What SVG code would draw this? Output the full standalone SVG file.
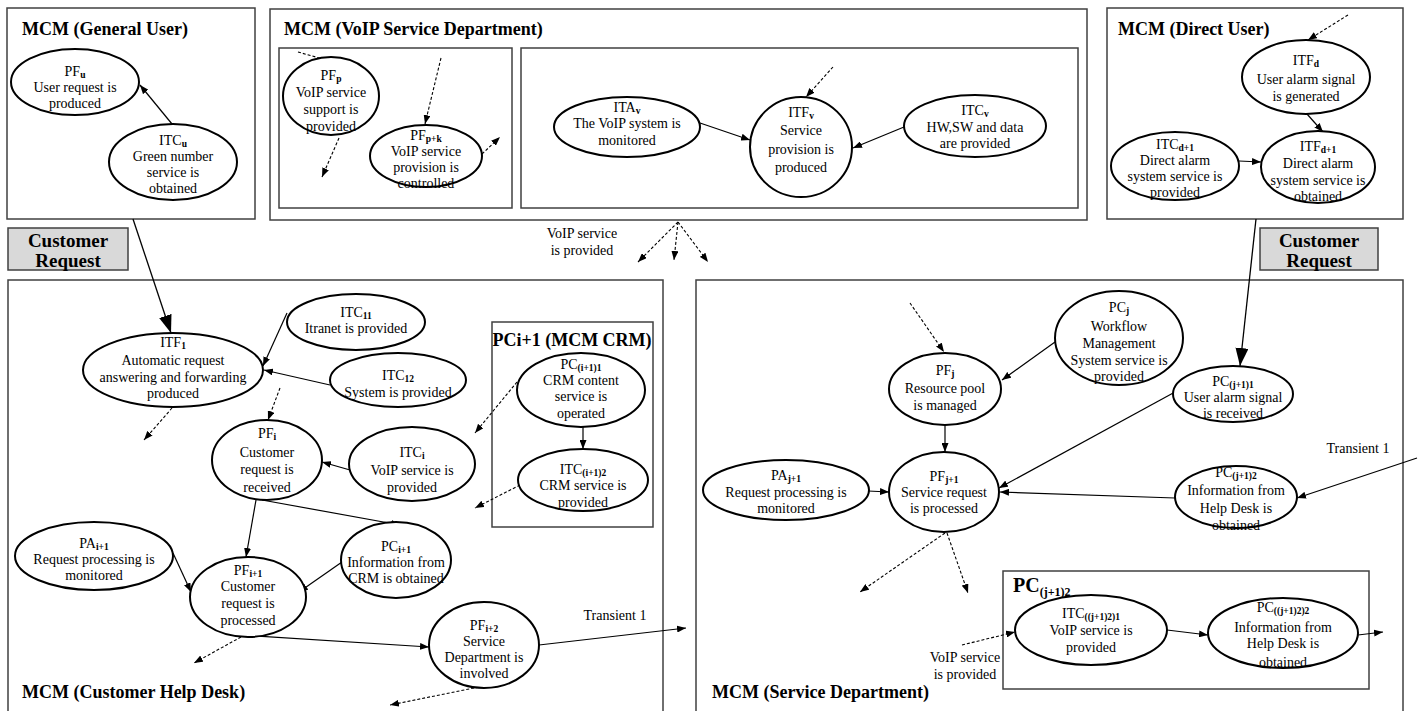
<svg xmlns="http://www.w3.org/2000/svg" width="1425" height="711" viewBox="0 0 1425 711">
<style>
.box{fill:none;stroke:#404040;stroke-width:1.5}
.cr{fill:#d9d9d9;stroke:#404040;stroke-width:1.5}
.el{fill:#fff;stroke:#000;stroke-width:2}
.t{font-family:"Liberation Serif","Times New Roman",serif;font-size:14px;fill:#000;text-anchor:middle}
.ttl{font-family:"Liberation Serif","Times New Roman",serif;font-size:18px;font-weight:bold;fill:#000}
.crt{font-family:"Liberation Serif","Times New Roman",serif;font-size:19px;font-weight:bold;fill:#000;text-anchor:middle}
.sub{font-size:9.5px;font-weight:bold}
.ln{fill:none;stroke:#000;stroke-width:1.2;marker-end:url(#a)}
.dl{fill:none;stroke:#000;stroke-width:1.1;stroke-dasharray:3,2;marker-end:url(#a)}
.bl{fill:none;stroke:#000;stroke-width:1.3;marker-end:url(#big)}
</style>
<defs>
<marker id="a" markerUnits="userSpaceOnUse" markerWidth="9" markerHeight="7" refX="9" refY="3.5" orient="auto"><path d="M0,0 L9,3.5 L0,7 z" fill="#000"/></marker>
<marker id="big" markerUnits="userSpaceOnUse" markerWidth="18" markerHeight="13" refX="18" refY="6.5" orient="auto"><path d="M0,0 L18,6.5 L0,13 z" fill="#000"/></marker>
</defs>
<rect width="1425" height="711" fill="#fff"/>

<g id="containers">
<rect class="box" x="7" y="8" width="248" height="211"/>
<text class="ttl" x="22" y="35">MCM (General User)</text>
<rect class="box" x="270" y="9" width="817" height="211"/>
<text class="ttl" x="284" y="35">MCM (VoIP Service Department)</text>
<rect class="box" x="279" y="48" width="233" height="160"/>
<rect class="box" x="521" y="48" width="557" height="160"/>
<rect class="box" x="1107" y="8" width="296" height="211"/>
<text class="ttl" x="1118" y="35">MCM (Direct User)</text>
<rect class="box" x="8" y="280" width="655" height="440"/>
<text class="ttl" x="22" y="698">MCM (Customer Help Desk)</text>
<rect class="box" x="492" y="322" width="161" height="205"/>
<text class="ttl" x="572" y="346" style="text-anchor:middle">PCi+1 (MCM CRM)</text>
<rect class="box" x="696" y="280" width="707" height="440"/>
<text class="ttl" x="712" y="698">MCM (Service Department)</text>
<rect class="box" x="1003" y="571" width="366" height="118"/>
<text class="ttl" x="1013" y="592" style="font-size:20px">PC<tspan class="sub" style="font-size:12px" dy="4">(j+1)2</tspan></text>
</g>

<g id="customer-request-left">
<rect class="cr" x="8" y="228" width="120" height="42"/>
<text class="crt" x="68" y="247">Customer</text>
<text class="crt" x="68" y="267">Request</text>
</g>
<g id="customer-request-right">
<rect class="cr" x="1260" y="228" width="118" height="42"/>
<text class="crt" x="1319" y="247">Customer</text>
<text class="crt" x="1319" y="267">Request</text>
</g>

<g id="connectors">
<line class="ln" x1="172" y1="124" x2="140" y2="85"/>
<line class="bl" x1="133" y1="219" x2="171" y2="333"/>
<line class="dl" x1="298" y1="52" x2="337" y2="63"/>
<line class="dl" x1="441" y1="58" x2="425" y2="124"/>
<line class="dl" x1="339" y1="138" x2="322" y2="177"/>
<line class="dl" x1="482" y1="154" x2="500" y2="137"/>
<line class="ln" x1="700" y1="123" x2="750" y2="140"/>
<line class="ln" x1="904" y1="127" x2="853" y2="148"/>
<line class="dl" x1="833" y1="67" x2="806" y2="97"/>
<line class="dl" x1="678" y1="222" x2="638" y2="262"/>
<line class="dl" x1="678" y1="222" x2="674" y2="260"/>
<line class="dl" x1="678" y1="222" x2="708" y2="262"/>
<line class="dl" x1="1348" y1="15" x2="1308" y2="40"/>
<line class="ln" x1="1307" y1="114" x2="1323" y2="132"/>
<line class="ln" x1="1239" y1="161" x2="1261" y2="162"/>
<line class="bl" x1="1256" y1="219" x2="1240" y2="366"/>
<line class="ln" x1="287" y1="313" x2="263" y2="366"/>
<line class="ln" x1="330" y1="385" x2="264" y2="370"/>
<line class="dl" x1="172" y1="408" x2="144" y2="440"/>
<line class="dl" x1="280" y1="388" x2="268" y2="420"/>
<line class="ln" x1="350" y1="470" x2="322" y2="462"/>
<line class="ln" x1="583" y1="427" x2="583" y2="449"/>
<line class="dl" x1="517" y1="382" x2="475" y2="433"/>
<line class="dl" x1="520" y1="485" x2="475" y2="508"/>
<line class="ln" x1="256" y1="500" x2="246" y2="557"/>
<line class="ln" x1="262" y1="500" x2="400" y2="525"/>
<line class="ln" x1="173" y1="553" x2="191" y2="592"/>
<line class="ln" x1="342" y1="562" x2="299" y2="592"/>
<line class="dl" x1="241" y1="637" x2="194" y2="663"/>
<line class="ln" x1="239" y1="635" x2="429" y2="647"/>
<line class="ln" x1="539" y1="645" x2="686" y2="628"/>
<text class="t" x="615" y="620">Transient 1</text>
<line class="dl" x1="479" y1="687" x2="390" y2="705"/>
<line class="dl" x1="910" y1="303" x2="944" y2="352"/>
<line class="ln" x1="1055" y1="342" x2="1002" y2="380"/>
<line class="ln" x1="945" y1="425" x2="945" y2="452"/>
<line class="ln" x1="868" y1="491" x2="889" y2="492"/>
<line class="ln" x1="1175" y1="392" x2="999" y2="488"/>
<line class="ln" x1="1175" y1="498" x2="1000" y2="492"/>
<line class="ln" x1="1417" y1="458" x2="1297" y2="498"/>
<text class="t" x="1358" y="453">Transient 1</text>
<line class="dl" x1="945" y1="533" x2="860" y2="592"/>
<line class="dl" x1="947" y1="533" x2="968" y2="593"/>
<line class="ln" x1="1167" y1="630" x2="1208" y2="635"/>
<line class="ln" x1="1358" y1="635" x2="1383" y2="632"/>
<line class="dl" x1="962" y1="645" x2="1015" y2="632"/>
<text class="t" x="582" y="238">VoIP service</text>
<text class="t" x="582" y="255">is provided</text>
<text class="t" x="965" y="662">VoIP service</text>
<text class="t" x="965" y="679">is provided</text>
</g>

<g id="PFu"><ellipse class="el" cx="75" cy="82" rx="64" ry="33"/>
<text class="t" x="75" y="76">PF<tspan class="sub" dy="2">u</tspan></text>
<text class="t" x="75" y="92">User request is</text>
<text class="t" x="75" y="108">produced</text></g>
<g id="ITCu"><ellipse class="el" cx="173" cy="162" rx="64" ry="38"/>
<text class="t" x="173" y="145">ITC<tspan class="sub" dy="2">u</tspan></text>
<text class="t" x="173" y="161">Green number</text>
<text class="t" x="173" y="177">service is</text>
<text class="t" x="173" y="193">obtained</text></g>

<g id="PFp"><ellipse class="el" cx="331" cy="96" rx="48" ry="39"/>
<text class="t" x="331" y="80">PF<tspan class="sub" dy="2">p</tspan></text>
<text class="t" x="331" y="97">VoIP service</text>
<text class="t" x="331" y="114">support is</text>
<text class="t" x="331" y="131">provided</text></g>
<g id="PFpk"><ellipse class="el" cx="426" cy="156" rx="56" ry="31"/>
<text class="t" x="426" y="140">PF<tspan class="sub" dy="2">p+k</tspan></text>
<text class="t" x="426" y="156">VoIP service</text>
<text class="t" x="426" y="172">provision is</text>
<text class="t" x="426" y="188">controlled</text></g>
<g id="ITAv"><ellipse class="el" cx="627" cy="127" rx="73" ry="30"/>
<text class="t" x="627" y="112">ITA<tspan class="sub" dy="2">v</tspan></text>
<text class="t" x="627" y="128">The VoIP system is</text>
<text class="t" x="627" y="145">monitored</text></g>
<g id="ITFv"><ellipse class="el" cx="801" cy="147" rx="51" ry="50"/>
<text class="t" x="801" y="117">ITF<tspan class="sub" dy="2">v</tspan></text>
<text class="t" x="801" y="135">Service</text>
<text class="t" x="801" y="154">provision is</text>
<text class="t" x="801" y="172">produced</text></g>
<g id="ITCv"><ellipse class="el" cx="975" cy="126" rx="71" ry="31"/>
<text class="t" x="975" y="115">ITC<tspan class="sub" dy="2">v</tspan></text>
<text class="t" x="975" y="132">HW,SW and data</text>
<text class="t" x="975" y="148">are provided</text></g>

<g id="ITFd"><ellipse class="el" cx="1306" cy="77" rx="64" ry="37"/>
<text class="t" x="1306" y="65">ITF<tspan class="sub" dy="2">d</tspan></text>
<text class="t" x="1306" y="84">User alarm signal</text>
<text class="t" x="1306" y="101">is generated</text></g>
<g id="ITCd1"><ellipse class="el" cx="1175" cy="166" rx="64" ry="34"/>
<text class="t" x="1175" y="149">ITC<tspan class="sub" dy="2">d+1</tspan></text>
<text class="t" x="1175" y="165">Direct alarm</text>
<text class="t" x="1175" y="181">system service is</text>
<text class="t" x="1175" y="197">provided</text></g>
<g id="ITFd1"><ellipse class="el" cx="1318" cy="167" rx="57" ry="36"/>
<text class="t" x="1318" y="151">ITF<tspan class="sub" dy="2">d+1</tspan></text>
<text class="t" x="1318" y="168">Direct alarm</text>
<text class="t" x="1318" y="185">system service is</text>
<text class="t" x="1318" y="201">obtained</text></g>

<g id="ITF1"><ellipse class="el" cx="173" cy="370" rx="90" ry="37"/>
<text class="t" x="173" y="347">ITF<tspan class="sub" dy="2">1</tspan></text>
<text class="t" x="173" y="365">Automatic request</text>
<text class="t" x="173" y="382">answering and forwarding</text>
<text class="t" x="173" y="398">produced</text></g>
<g id="ITC11"><ellipse class="el" cx="356" cy="322" rx="69" ry="28"/>
<text class="t" x="356" y="317">ITC<tspan class="sub" dy="2">11</tspan></text>
<text class="t" x="356" y="333">Itranet is provided</text></g>
<g id="ITC12"><ellipse class="el" cx="398" cy="380" rx="68" ry="27"/>
<text class="t" x="398" y="380">ITC<tspan class="sub" dy="2">12</tspan></text>
<text class="t" x="398" y="397">System is provided</text></g>
<g id="PFi"><ellipse class="el" cx="267" cy="460" rx="55" ry="40"/>
<text class="t" x="267" y="438">PF<tspan class="sub" dy="2">i</tspan></text>
<text class="t" x="267" y="457">Customer</text>
<text class="t" x="267" y="474">request is</text>
<text class="t" x="267" y="492">received</text></g>
<g id="ITCi"><ellipse class="el" cx="412" cy="464" rx="63" ry="37"/>
<text class="t" x="412" y="457">ITC<tspan class="sub" dy="2">i</tspan></text>
<text class="t" x="412" y="475">VoIP service  is</text>
<text class="t" x="412" y="492">provided</text></g>
<g id="PCi1_1"><ellipse class="el" cx="581" cy="390" rx="64" ry="37"/>
<text class="t" x="581" y="369">PC<tspan class="sub" dy="2">(i+1)1</tspan></text>
<text class="t" x="581" y="385">CRM content</text>
<text class="t" x="581" y="401">service is</text>
<text class="t" x="581" y="418">operated</text></g>
<g id="ITCi1_2"><ellipse class="el" cx="583" cy="480" rx="65" ry="31"/>
<text class="t" x="583" y="474">ITC<tspan class="sub" dy="2">(i+1)2</tspan></text>
<text class="t" x="583" y="490">CRM service is</text>
<text class="t" x="583" y="507">provided</text></g>
<g id="PAi1"><ellipse class="el" cx="94" cy="556" rx="79" ry="34"/>
<text class="t" x="94" y="548">PA<tspan class="sub" dy="2">i+1</tspan></text>
<text class="t" x="94" y="564">Request processing is</text>
<text class="t" x="94" y="580">monitored</text></g>
<g id="PFi1"><ellipse class="el" cx="248" cy="597" rx="58" ry="40"/>
<text class="t" x="248" y="575">PF<tspan class="sub" dy="2">i+1</tspan></text>
<text class="t" x="248" y="591">Customer</text>
<text class="t" x="248" y="608">request is</text>
<text class="t" x="248" y="625">processed</text></g>
<g id="PCi1"><ellipse class="el" cx="396" cy="560" rx="55" ry="38"/>
<text class="t" x="396" y="551">PC<tspan class="sub" dy="2">i+1</tspan></text>
<text class="t" x="396" y="567">Information from</text>
<text class="t" x="396" y="583">CRM is obtained</text></g>
<g id="PFi2"><ellipse class="el" cx="484" cy="645" rx="55" ry="43"/>
<text class="t" x="484" y="630">PF<tspan class="sub" dy="2">i+2</tspan></text>
<text class="t" x="484" y="646">Service</text>
<text class="t" x="484" y="662">Department is</text>
<text class="t" x="484" y="678">involved</text></g>

<g id="PFj"><ellipse class="el" cx="945" cy="389" rx="56" ry="36"/>
<text class="t" x="945" y="375">PF<tspan class="sub" dy="2">j</tspan></text>
<text class="t" x="945" y="393">Resource pool</text>
<text class="t" x="945" y="410">is managed</text></g>
<g id="PCj"><ellipse class="el" cx="1119" cy="338" rx="64" ry="47"/>
<text class="t" x="1119" y="312">PC<tspan class="sub" dy="2">j</tspan></text>
<text class="t" x="1119" y="331">Workflow</text>
<text class="t" x="1119" y="348">Management</text>
<text class="t" x="1119" y="365">System service is</text>
<text class="t" x="1119" y="381">provided</text></g>
<g id="PFj1"><ellipse class="el" cx="944" cy="492" rx="55" ry="40"/>
<text class="t" x="944" y="481">PF<tspan class="sub" dy="2">j+1</tspan></text>
<text class="t" x="944" y="497">Service request</text>
<text class="t" x="944" y="513">is processed</text></g>
<g id="PAj1"><ellipse class="el" cx="786" cy="490" rx="83" ry="30"/>
<text class="t" x="786" y="480">PA<tspan class="sub" dy="2">j+1</tspan></text>
<text class="t" x="786" y="497">Request processing is</text>
<text class="t" x="786" y="513">monitored</text></g>
<g id="PCj1_1"><ellipse class="el" cx="1233" cy="394" rx="60" ry="28"/>
<text class="t" x="1233" y="386">PC<tspan class="sub" dy="2">(j+1)1</tspan></text>
<text class="t" x="1233" y="402">User alarm signal</text>
<text class="t" x="1233" y="418">is received</text></g>
<g id="PCj1_2"><ellipse class="el" cx="1236" cy="497" rx="61" ry="31"/>
<text class="t" x="1236" y="477">PC<tspan class="sub" dy="2">(j+1)2</tspan></text>
<text class="t" x="1236" y="495">Information from</text>
<text class="t" x="1236" y="513">Help Desk is</text>
<text class="t" x="1236" y="530">obtained</text></g>
<g id="ITCj12_1"><ellipse class="el" cx="1091" cy="630" rx="76" ry="35"/>
<text class="t" x="1091" y="618">ITC<tspan class="sub" dy="2">((j+1)2)1</tspan></text>
<text class="t" x="1091" y="635">VoIP service is</text>
<text class="t" x="1091" y="652">provided</text></g>
<g id="PCj12_2"><ellipse class="el" cx="1283" cy="633" rx="75" ry="35"/>
<text class="t" x="1283" y="612">PC<tspan class="sub" dy="2">((j+1)2)2</tspan></text>
<text class="t" x="1283" y="632">Information from</text>
<text class="t" x="1283" y="648">Help Desk is</text>
<text class="t" x="1283" y="667">obtained</text></g>
</svg>
